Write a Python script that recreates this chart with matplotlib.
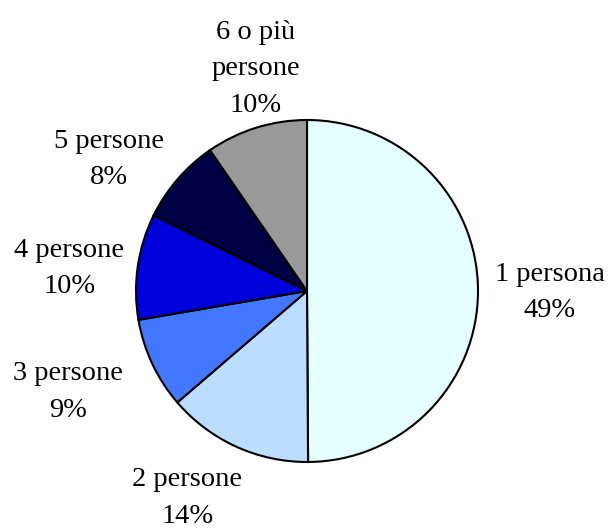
#pie chart of households by number of members
import matplotlib.pyplot as plt

#data
categorie=["1 persona", "2 persone", "3 persone", "4 persone", "5 persone", "6 o più\npersone"]
quote=[49.9, 13.8, 8.6, 10.0, 8.1, 9.6]
etichette_pct=["49%", "14%", "9%", "10%", "8%", "10%"]
colori=["#E5FFFF", "#BBDDFF", "#4477FF", "#0000DD", "#000044", "#999999"]

#label centres in units of the radius (layout only)
pos_etichette=[(1.42, -0.01), (-0.70, -1.21), (-1.40, -0.59),
               (-1.39, 0.13), (-1.16, 0.77), (-0.30, 1.30)]

plt.rcParams["font.family"]=["Liberation Serif", "DejaVu Serif"]

fig=plt.figure(figsize=(6.13, 5.30), dpi=100)
ax=fig.add_axes([0, 0, 1, 1])

etichette=[c + "\n" + p for c, p in zip(categorie, etichette_pct)]
wedges, texts=ax.pie(quote, labels=etichette, colors=colori, startangle=90,
                     counterclock=False, labeldistance=1.41,
                     wedgeprops={"edgecolor": "black", "linewidth": 1.5},
                     textprops={"fontsize": 20.5, "linespacing": 1.6})
for t, p in zip(texts, pos_etichette):
    t.set_position(p)
    t.set_horizontalalignment("center")
    t.set_verticalalignment("center")
    t.set_multialignment("center")

#place the pie like in the reference (centre ~ (307,291) px, radius ~171 px)
ax.set_xlim(-307/171, (613-307)/171)
ax.set_ylim(-(530-291)/171, 291/171)
ax.set_aspect("equal")
ax.axis("off")

plt.savefig("out.png", dpi=100)
